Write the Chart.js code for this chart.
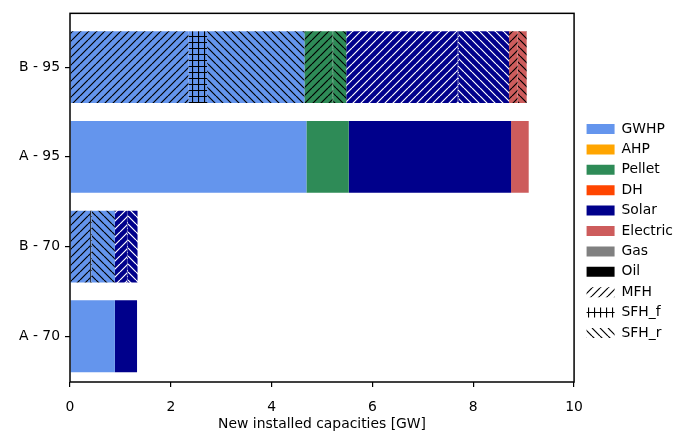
<!DOCTYPE html>
<html lang="en">
<head>
  <meta charset="UTF-8">
  <title>New installed capacities</title>
  <script src="https://cdn.jsdelivr.net/npm/chart.js"></script>
  <style>
    html, body { margin: 0; padding: 0; background: #fff; }
    #wrap { width: 691px; height: 432px; }
  </style>
</head>
<body>

  <div id="wrap"><canvas id="grafico"></canvas></div>

  <script>
    // Categories, top to bottom, and their place on the y axis
    const categorias = ['B - 95', 'A - 95', 'B - 70', 'A - 70'];
    const posiciones = [3, 2, 1, 0];
    const xTicks = [0, 2, 4, 6, 8, 10];

    const fuels = ['GWHP', 'AHP', 'Pellet', 'DH', 'Solar', 'Electric', 'Gas', 'Oil'];
    const fuelColors = ['#6495ED', '#FFA500', '#2E8B57', '#FF4500', '#00008B', '#CD5C5C', '#808080', '#000000'];
    const buildings = ['MFH', 'SFH_f', 'SFH_r'];

    // GW per category (B - 95, A - 95, B - 70, A - 70)
    const gwhpTotal     = [0,    4.69, 0,    0.89];
    const gwhpMFH       = [2.35, 0,    0.40, 0];
    const gwhpSFHf      = [0.37, 0,    0.03, 0];
    const gwhpSFHr      = [1.93, 0,    0.46, 0];
    const pelletTotal   = [0,    0.84, 0,    0];
    const pelletMFH     = [0.56, 0,    0,    0];
    const pelletSFHf    = [0.01, 0,    0,    0];
    const pelletSFHr    = [0.26, 0,    0,    0];
    const solarTotal    = [0,    3.22, 0,    0.44];
    const solarMFH      = [2.21, 0,    0.24, 0];
    const solarSFHf     = [0.02, 0,    0.01, 0];
    const solarSFHr     = [1.00, 0,    0.20, 0];
    const electricTotal = [0,    0.35, 0,    0];
    const electricMFH   = [0.17, 0,    0,    0];
    const electricSFHr  = [0.18, 0,    0,    0];

    // [fuel, building type (null = no hatch), values]
    const series = [
      ['GWHP', null, gwhpTotal], ['GWHP', 'MFH', gwhpMFH], ['GWHP', 'SFH_f', gwhpSFHf], ['GWHP', 'SFH_r', gwhpSFHr],
      ['Pellet', null, pelletTotal], ['Pellet', 'MFH', pelletMFH], ['Pellet', 'SFH_f', pelletSFHf], ['Pellet', 'SFH_r', pelletSFHr],
      ['Solar', null, solarTotal], ['Solar', 'MFH', solarMFH], ['Solar', 'SFH_f', solarSFHf], ['Solar', 'SFH_r', solarSFHr],
      ['Electric', null, electricTotal], ['Electric', 'MFH', electricMFH], ['Electric', 'SFH_r', electricSFHr]
    ];

    // hatch patterns like matplotlib's '//', '++', '\\'
    function hatch(base, tipo, linea) {
      const s = tipo === 'SFH_f' ? 6 : 8;
      const c = document.createElement('canvas');
      c.width = s; c.height = s;
      const g = c.getContext('2d');
      g.fillStyle = base;
      g.fillRect(0, 0, s, s);
      g.strokeStyle = linea;
      g.lineWidth = 1.2;
      g.beginPath();
      if (tipo === 'MFH') {
        for (const k of [-s, 0, s]) { g.moveTo(k, s); g.lineTo(k + s, 0); }
      } else if (tipo === 'SFH_r') {
        for (const k of [-s, 0, s]) { g.moveTo(k, 0); g.lineTo(k + s, s); }
      } else {
        g.moveTo(0.5, 0); g.lineTo(0.5, s);
        g.moveTo(0, 0.5); g.lineTo(s, 0.5);
      }
      g.stroke();
      return g.createPattern(c, 'repeat');
    }

    function relleno(fuel, tipo) {
      const color = fuelColors[fuels.indexOf(fuel)];
      if (!tipo) return color;
      return hatch(color, tipo, fuel === 'Solar' ? '#ffffff' : '#000000');
    }

    const datasets = series.map(([fuel, tipo, valores]) => ({
      label: fuel + (tipo ? ' ' + tipo : ''),
      data: valores.map((v, i) => ({ x: v, y: posiciones[i] })),
      backgroundColor: relleno(fuel, tipo),
      borderWidth: 0,
      barPercentage: 0.8,
      categoryPercentage: 1
    }));

    const itemsLeyenda = fuels.map((f, i) => ({
      text: f, fillStyle: fuelColors[i], strokeStyle: fuelColors[i], lineWidth: 0, hidden: false, fontColor: '#000'
    })).concat(buildings.map(b => ({
      text: b, fillStyle: hatch('#ffffff', b, '#000000'), strokeStyle: '#ffffff', lineWidth: 0, hidden: false, fontColor: '#000'
    })));

    const marco = {
      id: 'marco',
      afterDatasetsDraw(chart) {
        const { ctx, chartArea: a } = chart;
        ctx.save();
        ctx.strokeStyle = '#000';
        ctx.lineWidth = 1.5;
        ctx.strokeRect(a.left, a.top, a.right - a.left, a.bottom - a.top);
        ctx.restore();
      }
    };

    // move the legend a bit right and down, as in the original
    const ajusteLeyenda = {
      id: 'ajusteLeyenda',
      afterLayout(chart) {
        const l = chart.legend;
        l.left += 6; l.right += 6;
        l.top += 8.5; l.bottom += 8.5;
      }
    };

    const fuente = { family: 'DejaVu Sans', size: 13.9 };
    Chart.defaults.color = '#000';

    new Chart(document.getElementById('grafico').getContext('2d'), {
      type: 'bar',
      data: { datasets },
      plugins: [marco, ajusteLeyenda],
      options: {
        indexAxis: 'y',
        responsive: true,
        maintainAspectRatio: false,
        animation: false,
        layout: { padding: { top: 13, right: 14, left: 0, bottom: 0 } },
        plugins: {
          tooltip: { enabled: false },
          legend: {
            position: 'right',
            onClick: null,
            labels: {
              font: fuente,
              color: '#000',
              boxWidth: 28,
              boxHeight: 10,
              padding: 6.5,
              generateLabels: () => itemsLeyenda
            }
          }
        },
        scales: {
          x: {
            type: 'linear',
            stacked: true,
            min: 0,
            max: 10,
            afterFit: s => { s.height = 50; },
            afterBuildTicks: s => { s.ticks = xTicks.map(v => ({ value: v })); },
            ticks: { font: fuente, color: '#000', padding: 12 },
            grid: { drawOnChartArea: false, drawTicks: true, tickLength: 5, color: '#000', lineWidth: 1.2 },
            border: { display: false },
            title: {
              display: true,
              text: 'New installed capacities [GW]',
              font: { family: 'DejaVu Sans', size: 13.9, lineHeight: 1.0 },
              color: '#000',
              padding: { top: 0, bottom: 1 }
            }
          },
          y: {
            type: 'linear',
            stacked: true,
            offset: false,
            min: -0.51,
            max: 3.6,
            afterFit: s => { s.width = 70; },
            afterBuildTicks: s => { s.ticks = posiciones.map(v => ({ value: v })); },
            ticks: { font: fuente, color: '#000', padding: 5, callback: v => categorias[posiciones.indexOf(v)] },
            grid: { offset: false, drawOnChartArea: false, drawTicks: true, tickLength: 5, color: '#000', lineWidth: 1.2 },
            border: { display: false }
          }
        }
      }
    });
  </script>

</body>
</html>
